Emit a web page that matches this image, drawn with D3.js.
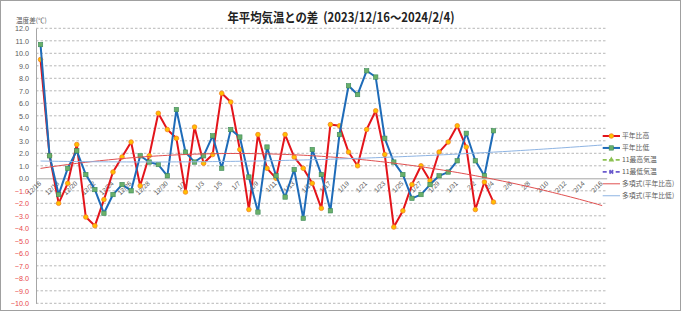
<!DOCTYPE html>
<html><head><meta charset="utf-8">
<script src="https://cdn.jsdelivr.net/npm/d3@7"></script>
<style>
html,body{margin:0;padding:0;background:#fff;}
svg{display:block;}
</style></head>
<body>
<svg id="c" width="681" height="311"></svg>
<script>
const categories = ["12/16","12/17","12/18","12/19","12/20","12/21","12/22","12/23","12/24","12/25","12/26","12/27","12/28","12/29","12/30","12/31",
"1/1","1/2","1/3","1/4","1/5","1/6","1/7","1/8","1/9","1/10","1/11","1/12","1/13","1/14","1/15","1/16","1/17","1/18","1/19","1/20","1/21","1/22","1/23","1/24","1/25","1/26","1/27","1/28","1/29","1/30","1/31",
"2/1","2/2","2/3","2/4","2/5","2/6","2/7","2/8","2/9","2/10","2/11","2/12","2/13","2/14","2/15","2/16"];
const highDiff = [9.5,1.8,-2.0,-0.4,2.7,-3.1,-3.8,-1.7,0.5,1.7,2.9,-0.6,1.8,5.2,3.9,3.2,-1.1,4.1,1.2,1.9,6.8,6.1,2.3,-2.5,3.5,0.8,0.0,3.5,1.7,0.8,-0.4,-2.4,4.3,4.2,2.1,1.0,3.9,5.4,1.9,-3.9,-2.6,-0.5,1.0,-0.2,2.1,2.9,4.2,2.5,-2.5,-0.3,-1.9];
const lowDiff = [10.7,1.8,-1.3,0.8,2.2,0.3,-0.9,-2.8,-1.3,-0.5,-1.0,1.8,1.3,1.1,0.2,5.5,2.1,1.3,1.8,3.4,0.8,3.9,3.3,0.1,-2.7,2.5,0.2,-1.5,0.7,-3.2,2.3,0.3,-2.6,3.5,7.4,6.7,8.6,8.1,3.2,1.3,0.3,-1.6,-1.3,-0.5,0.2,0.5,1.4,3.6,1.4,0.2,3.8];
const yTicks = d3.range(-10, 13, 1);
const legendLabels = ["平年比高","平年比低","11最高気温","11最低気温","多項式(平年比高)","多項式(平年比低)"];
const titleText = "年平均気温との差  (2023/12/16～2024/2/4)";
const yAxisTitle = "温度差(℃)";

(function(){
const svg = d3.select("#c");
const W = 681, H = 311;
const pLeft = 36, pRight = 606.7, pTop = 28.3, pBottom = 303.3;
const jp = "'Noto Sans CJK JP', sans-serif";
const num = "'Liberation Sans Narrow','Liberation Sans',Arial,sans-serif";

svg.append("rect").attr("x",0.5).attr("y",0.5).attr("width",W-1).attr("height",H-1)
  .attr("fill","#fff").attr("stroke","#a0a0a0");

const x = d3.scaleBand().domain(categories).range([pLeft, pRight]).padding(0);
const cx = c => x(c) + x.bandwidth()/2;
const y = d3.scaleLinear().domain([-10, 12]).range([pBottom, pTop]);

// gridlines
svg.append("g").selectAll("line").data(yTicks.filter(d=>d!==0)).join("line")
  .attr("x1", pLeft).attr("x2", pRight).attr("y1", d=>y(d)).attr("y2", d=>y(d))
  .attr("stroke","#a6a6a6").attr("stroke-width",0.8).attr("stroke-dasharray","2.5,2");

// y axis
const yAxis = d3.axisLeft(y).tickValues(yTicks).tickFormat(d3.format(".1f")).tickSize(0).tickPadding(7);
const gy = svg.append("g").attr("transform",`translate(${pLeft},0)`).call(yAxis);
gy.select(".domain").attr("stroke","#a6a6a6").attr("stroke-width",1);
gy.selectAll("text").attr("font-family",num).attr("font-size",7.2)
  .attr("fill", d => d < 0 ? "#e8484a" : "#595959");

// zero axis
const xAxis = d3.axisBottom(x).tickValues(categories.filter((d,i)=>i%2===0)).tickSize(0).tickFormat(d=>d);
const gx = svg.append("g").attr("transform",`translate(0,${y(0)})`).call(xAxis);
gx.select(".domain").attr("stroke","#a6a6a6").attr("stroke-width",1);
gx.selectAll(".tick text")
  .attr("font-family",num).attr("font-size",6.6).attr("fill","#595959")
  .attr("text-anchor","end").attr("dy",null).attr("y",0)
  .attr("transform","translate(1,5.5) rotate(-45)");

// trend (polynomial order 2 least squares)
function polyfit2(vals){
  let S=[0,0,0,0,0], T=[0,0,0];
  vals.forEach((v,i)=>{ for(let k=0;k<5;k++) S[k]+=Math.pow(i,k); for(let k=0;k<3;k++) T[k]+=v*Math.pow(i,k); });
  const A=[[S[0],S[1],S[2],T[0]],[S[1],S[2],S[3],T[1]],[S[2],S[3],S[4],T[2]]];
  for(let i=0;i<3;i++){ for(let j=i+1;j<3;j++){ const f=A[j][i]/A[i][i]; for(let k=i;k<4;k++) A[j][k]-=f*A[i][k]; } }
  const c=[0,0,0];
  for(let i=2;i>=0;i--){ let s=A[i][3]; for(let k=i+1;k<3;k++) s-=A[i][k]*c[k]; c[i]=s/A[i][i]; }
  return t => c[0]+c[1]*t+c[2]*t*t;
}
const step = x.bandwidth();
const tx = t => x(categories[0]) + step/2 + t*step;
const fH = polyfit2(highDiff), fL = polyfit2(lowDiff);
const ts = d3.range(0, categories.length-1+0.001, 0.5);
const tline = f => d3.line().x(t=>tx(t)).y(t=>y(f(t)))(ts);

const line = d3.line().x((d,i)=>cx(categories[i])).y(d=>y(d));

// high series
svg.append("path").attr("d", line(highDiff)).attr("fill","none").attr("stroke","#e3141b").attr("stroke-width",2).attr("stroke-linejoin","round");
svg.append("g").selectAll("circle").data(highDiff).join("circle")
  .attr("cx",(d,i)=>cx(categories[i])).attr("cy",d=>y(d)).attr("r",2.3)
  .attr("fill","#ffc000").attr("stroke","#f58220").attr("stroke-width",0.8);
// low series
svg.append("path").attr("d", line(lowDiff)).attr("fill","none").attr("stroke","#1e6bb8").attr("stroke-width",2).attr("stroke-linejoin","round");
svg.append("g").selectAll("rect").data(lowDiff).join("rect")
  .attr("x",(d,i)=>cx(categories[i])-2.2).attr("y",d=>y(d)-2.2).attr("width",4.4).attr("height",4.4)
  .attr("fill","#6ab06a").attr("stroke","#3d8a5a").attr("stroke-width",0.6);

// trend lines
svg.append("path").attr("d", tline(fH)).attr("fill","none").attr("stroke","#e05050").attr("stroke-width",1);
svg.append("path").attr("d", tline(fL)).attr("fill","none").attr("stroke","#8eb4e3").attr("stroke-width",1);

// title
svg.append("text").attr("x",341).attr("y",22).attr("text-anchor","middle")
  .attr("font-family",jp).attr("font-weight","bold").attr("font-size",13)
  .attr("fill","#222").style("white-space","pre")
  .attr("textLength",227).attr("lengthAdjust","spacingAndGlyphs").text(titleText);
svg.append("text").attr("x",16).attr("y",23).attr("font-family",jp).attr("font-size",6.6).attr("fill","#595959").text(yAxisTitle);

// legend
const lg = svg.append("g");
const ly0 = 136, ldy = 11.95, lx1 = 602.7, lx2 = 620;
legendLabels.forEach((lab,i)=>{
  const yy = ly0 + i*ldy;
  const g = lg.append("g");
  if(i===0){
    g.append("line").attr("x1",lx1).attr("x2",lx2).attr("y1",yy).attr("y2",yy).attr("stroke","#e3141b").attr("stroke-width",2);
    g.append("circle").attr("cx",(lx1+lx2)/2).attr("cy",yy).attr("r",2.3).attr("fill","#ffc000").attr("stroke","#f58220").attr("stroke-width",0.8);
  } else if(i===1){
    g.append("line").attr("x1",lx1).attr("x2",lx2).attr("y1",yy).attr("y2",yy).attr("stroke","#1e6bb8").attr("stroke-width",2);
    g.append("rect").attr("x",(lx1+lx2)/2-2.2).attr("y",yy-2.2).attr("width",4.4).attr("height",4.4).attr("fill","#6ab06a").attr("stroke","#3d8a5a").attr("stroke-width",0.6);
  } else if(i===2){
    g.append("line").attr("x1",lx1).attr("x2",lx2).attr("y1",yy).attr("y2",yy).attr("stroke","#8cc152").attr("stroke-width",1.6).attr("stroke-dasharray","4,2.5");
    g.append("path").attr("d",d3.symbol(d3.symbolTriangle,14)()).attr("transform",`translate(${(lx1+lx2)/2},${yy})`).attr("fill","#8cc152");
  } else if(i===3){
    g.append("line").attr("x1",lx1).attr("x2",lx2).attr("y1",yy).attr("y2",yy).attr("stroke","#6a5acd").attr("stroke-width",1.6).attr("stroke-dasharray","4,2.5");
    g.append("path").attr("d",d3.symbol(d3.symbolCross,14)()).attr("transform",`translate(${(lx1+lx2)/2},${yy}) rotate(45)`).attr("fill","#6a5acd");
  } else if(i===4){
    g.append("line").attr("x1",lx1).attr("x2",lx2).attr("y1",yy).attr("y2",yy).attr("stroke","#e05050").attr("stroke-width",1);
  } else {
    g.append("line").attr("x1",lx1).attr("x2",lx2).attr("y1",yy).attr("y2",yy).attr("stroke","#8eb4e3").attr("stroke-width",1);
  }
  g.append("text").attr("x",622).attr("y",yy+2.4).attr("font-family",jp).attr("font-size",6.8).attr("fill","#595959").text(lab);
});
})();
</script>
</body></html>
